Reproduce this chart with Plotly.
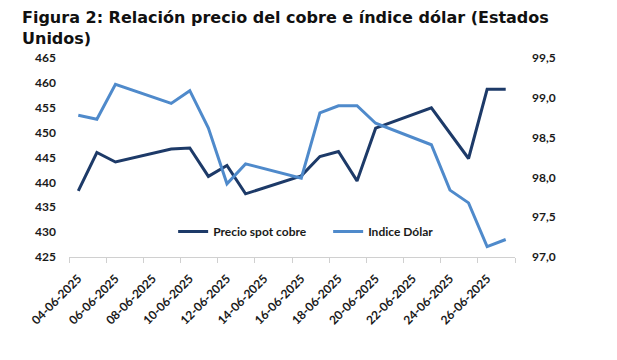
import plotly.graph_objects as go

dates = ["2025-06-04", "2025-06-05", "2025-06-06", "2025-06-09", "2025-06-10",
         "2025-06-11", "2025-06-12", "2025-06-13", "2025-06-16", "2025-06-17",
         "2025-06-18", "2025-06-19", "2025-06-20", "2025-06-23", "2025-06-24",
         "2025-06-25", "2025-06-26", "2025-06-27"]
cobre = [438.3, 446.0, 444.1, 446.7, 446.9,
         441.2, 443.4, 437.7, 441.3, 445.2,
         446.2, 440.3, 450.9, 455.0, None,
         444.8, 458.7, 458.7]
dolar = [98.78, 98.73, 99.17, 98.93, 99.09,
         98.62, 97.92, 98.17, 97.99, 98.81,
         98.90, 98.90, 98.68, 98.41, 97.84,
         97.68, 97.13, 97.22]
tick_dates = ["2025-06-04", "2025-06-06", "2025-06-08", "2025-06-10", "2025-06-12",
              "2025-06-14", "2025-06-16", "2025-06-18", "2025-06-20", "2025-06-22",
              "2025-06-24", "2025-06-26"]
left_ticks = [425, 430, 435, 440, 445, 450, 455, 460, 465]
right_ticks = [97.0, 97.5, 98.0, 98.5, 99.0, 99.5]
title_text = "<b>Figura 2: Relación precio del cobre e índice dólar (Estados<br>Unidos)</b>"

DARK = "#1D3A68"
LIGHT = "#4F8ACB"
TXT = "#1A1A1A"
FONT = "Lato"

# page body has a default 8px margin; the figure is sized to fit the window
OFF = 8
W, H = 617 - OFF, 360 - OFF
L, T = 69 - OFF, 58 - OFF
PW, PH = 446, 199
R = W - L - PW
B = H - T - PH

fig = go.Figure()
fig.add_trace(go.Scatter(x=dates, y=cobre, name="Precio spot cobre", mode="lines",
                         connectgaps=True, line=dict(color=DARK, width=3), yaxis="y"))
fig.add_trace(go.Scatter(x=dates, y=dolar, name="Indice Dólar", mode="lines",
                         line=dict(color=LIGHT, width=3), yaxis="y2"))

fig.add_annotation(text=title_text, xref="paper", yref="paper",
                   x=(12 - L) / PW, y=(H - B + 2) / PH, xanchor="left", yanchor="top",
                   align="left", showarrow=False,
                   font=dict(family="DejaVu Sans", size=16, color="#111111"))

fig.update_layout(
    width=W, height=H,
    margin=dict(l=L, r=R, t=T, b=B, autoexpand=False),
    paper_bgcolor="white", plot_bgcolor="white",
    separators=",.",
    font=dict(family=FONT, size=12, color=TXT),
    xaxis=dict(type="date", range=["2025-06-03 12:00", "2025-06-27 12:00"],
               tickvals=tick_dates, tickformat="%d-%m-%Y", tickangle=-45,
               ticks="", showgrid=False, zeroline=False, automargin=False,
               ticklabelstandoff=9,
               showline=True, linecolor="#D0D0D0", linewidth=1,
               tickfont=dict(family=FONT, size=12, color=TXT, weight="bold"),
               minor=dict(ticks="outside", tick0="2025-06-03 12:00", dtick=2 * 86400000,
                          ticklen=5, tickcolor="#D0D0D0", showgrid=False)),
    yaxis=dict(range=[425, 465], tickvals=left_ticks, showgrid=False, zeroline=False,
               showline=False, ticks="", ticklabelstandoff=12, automargin=False,
               tickfont=dict(family=FONT, size=12, color=TXT, weight="bold")),
    yaxis2=dict(range=[97, 99.5], tickvals=right_ticks, tickformat=".1f",
                overlaying="y", side="right", showgrid=False, zeroline=False,
                showline=False, ticks="", ticklabelstandoff=16, automargin=False,
                tickfont=dict(family=FONT, size=12, color=TXT, weight="bold")),
    showlegend=True,
    legend=dict(orientation="h", x=0.2335, y=0.128, xanchor="left", yanchor="middle",
                bgcolor="rgba(0,0,0,0)", font=dict(family=FONT, size=12, color=TXT, weight="bold"),
                entrywidth=110, entrywidthmode="pixels"),
)

fig.write_html("out.html")
